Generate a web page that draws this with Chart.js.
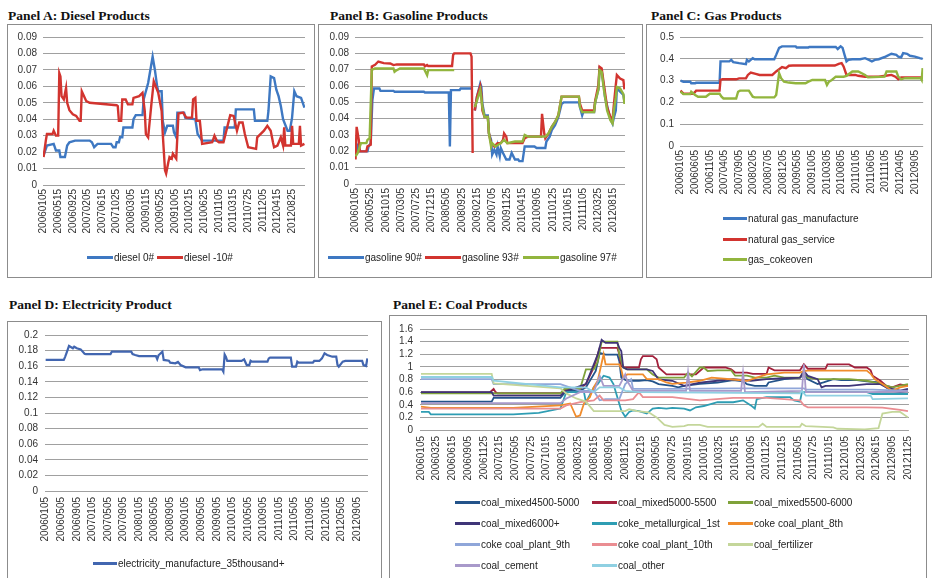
<!DOCTYPE html>
<html><head><meta charset="utf-8">
<script src="https://cdn.jsdelivr.net/npm/chart.js@4.4.1/dist/chart.umd.min.js"></script>
<style>
html,body{margin:0;padding:0;background:#fff;}
body{width:933px;height:578px;position:relative;overflow:hidden;font-family:'Liberation Sans',Arial,sans-serif;}
.title{position:absolute;font-family:'Liberation Serif','Times New Roman',serif;font-weight:bold;font-size:13.5px;line-height:14px;color:#111;white-space:nowrap;}
.box{position:absolute;border:1px solid #8c8c8c;box-sizing:border-box;}
canvas{position:absolute;}
.item{position:absolute;display:flex;align-items:center;height:12px;font-size:10px;color:#222;white-space:nowrap;}
.swatch{display:inline-block;height:3px;margin-right:1px;}
</style></head><body>
<div class="title" style="left:8px;top:9px">Panel A: Diesel Products</div>
<div class="title" style="left:330px;top:9px">Panel B: Gasoline Products</div>
<div class="title" style="left:651px;top:9px">Panel C: Gas Products</div>
<div class="title" style="left:9px;top:298px">Panel D: Electricity Product</div>
<div class="title" style="left:393px;top:298px">Panel E: Coal Products</div>
<script>
// ---------- tick labels ----------
const labelsA = ['20060105','20060515','20060925','20070205','20070615','20071025','20080305','20090115','20090525','20091005','20100215','20100625','20101105','20110315','20110725','20111205','20120415','20120825'];
const labelsB = ['20060105','20060525','20061015','20070305','20070725','20071215','20080505','20080925','20090215','20090705','20091125','20100415','20100905','20110125','20110615','20111105','20120325','20120815'];
const labelsC = ['20060105','20060605','20061105','20070405','20070905','20080205','20080705','20081205','20090505','20091005','20100305','20100805','20110105','20110605','20111105','20120405','20120905'];
const labelsD = ['20060105','20060505','20060905','20070105','20070505','20070905','20080105','20080505','20080905','20090105','20090505','20090905','20100105','20100505','20100905','20110105','20110505','20110905','20120105','20120505','20120905'];
const labelsE = ['20060105','20060325','20060615','20060905','20061125','20070215','20070505','20070725','20071015','20080105','20080325','20080615','20080905','20081125','20090215','20090505','20090725','20091015','20100105','20100325','20100615','20100905','20101125','20110215','20110505','20110725','20111015','20120105','20120325','20120615','20120905','20121125'];
const yTicksA = [0,0.01,0.02,0.03,0.04,0.05,0.06,0.07,0.08,0.09];
const yTicksB = [0,0.01,0.02,0.03,0.04,0.05,0.06,0.07,0.08,0.09];
const yTicksC = [0,0.1,0.2,0.3,0.4,0.5];
const yTicksD = [0,0.02,0.04,0.06,0.08,0.1,0.12,0.14,0.16,0.18,0.2];
const yTicksE = [0,0.2,0.4,0.6,0.8,1,1.2,1.4,1.6];
// observation count per panel and label spacing (in observations)
const countA = 233, stepA = 13;
const countB = 249, stepB = 14;
const countC = 249, stepC = 15;
const countD = 249, stepD = 12;
const countE = 249, stepE = 8;

// ---------- series: [observation index, value] ----------
const diesel0 = [[0,0.018],[3,0.024],[9,0.025],[11,0.021],[14,0.021],[15,0.017],[19,0.017],[21,0.024],[23,0.026],[28,0.027],[41,0.027],[43,0.026],[45,0.023],[48,0.025],[60,0.025],[62,0.023],[64,0.023],[65,0.026],[67,0.026],[68,0.029],[70,0.029],[71,0.035],[79,0.035],[80,0.040],[82,0.0425],[88,0.0425],[89,0.052],[91,0.057],[93,0.062],[97,0.078],[99,0.070],[101,0.060],[102,0.057],[105,0.057],[106,0.039],[108,0.032],[110,0.036],[115,0.036],[116,0.032],[118,0.029],[119,0.044],[125,0.044],[126,0.041],[135,0.040],[137,0.031],[141,0.027],[160,0.027],[161,0.035],[170,0.035],[171,0.046],[187,0.046],[188,0.039],[199,0.039],[200,0.045],[202,0.066],[205,0.065],[207,0.058],[209,0.054],[211,0.048],[213,0.040],[217,0.033],[219,0.033],[221,0.041],[223,0.057],[225,0.054],[229,0.053],[232,0.047]];
const dieselM10 = [[0,0.017],[2,0.027],[3,0.031],[8,0.031],[9,0.033],[11,0.030],[13,0.030],[14,0.068],[15,0.066],[16,0.054],[18,0.052],[20,0.059],[21,0.050],[23,0.0455],[26,0.043],[29,0.042],[32,0.039],[33,0.039],[34,0.057],[36,0.054],[38,0.051],[41,0.050],[65,0.0485],[66,0.048],[67,0.039],[69,0.039],[70,0.052],[73,0.052],[75,0.049],[79,0.049],[80,0.053],[85,0.054],[88,0.056],[90,0.045],[91,0.031],[93,0.029],[96,0.050],[98,0.063],[102,0.056],[105,0.045],[106,0.031],[108,0.009],[109,0.007],[111,0.014],[112,0.017],[114,0.016],[115,0.019],[118,0.016],[120,0.0435],[124,0.044],[127,0.041],[132,0.041],[133,0.052],[135,0.053],[136,0.039],[139,0.039],[141,0.025],[150,0.026],[152,0.030],[154,0.027],[156,0.026],[160,0.026],[164,0.037],[166,0.0425],[169,0.042],[172,0.033],[174,0.038],[177,0.038],[179,0.031],[182,0.023],[189,0.022],[190,0.029],[196,0.033],[199,0.036],[202,0.033],[204,0.026],[205,0.023],[208,0.024],[211,0.029],[213,0.024],[214,0.035],[215,0.024],[220,0.024],[221,0.036],[222,0.025],[227,0.025],[228,0.036],[229,0.024],[232,0.025]];

const gasoline90 = [[0,0.017],[2,0.023],[4,0.020],[11,0.020],[12,0.023],[14,0.025],[15.5,0.051],[17,0.0585],[22,0.0585],[23,0.057],[35,0.057],[36,0.0565],[63,0.0565],[64,0.056],[86,0.056],[87,0.023],[88,0.0575],[96,0.0575],[97,0.0585],[107,0.0585],[108,null],[110,0.045],[112,0.0535],[115,0.0615],[116,0.0595],[117,0.049],[119,0.042],[122,0.042],[123,0.031],[125,0.027],[126,0.018],[128,0.021],[130,0.018],[131,0.023],[133,0.017],[134,0.022],[136,0.019],[139,0.015],[142,0.015],[144,0.019],[147,0.015],[150,0.015],[151,0.014],[154,0.014],[156,0.023],[165,0.023],[167,0.022],[175,0.022],[176,0.026],[179,0.029],[181,0.033],[184,0.036],[187,0.041],[190,0.049],[192,0.050],[206,0.050],[207,0.047],[209,0.042],[210,0.044],[220,0.044],[221,0.050],[224,0.058],[225,0.0705],[227,0.069],[229,0.0595],[230,0.0535],[233,0.045],[235,0.040],[237,0.037],[238,0.040],[240,0.045],[241,0.0585],[244,0.0565],[247,0.0545],[248,0.0505]];
const gasoline93 = [[0,0.015],[1,0.035],[3,0.027],[4,0.020],[10,0.020],[11,0.023],[14,0.024],[15,0.072],[18,0.073],[21,0.075],[26,0.074],[32,0.0738],[35,0.0728],[38,0.0732],[63,0.0732],[64,0.072],[66,0.0728],[67,0.0722],[89,0.0722],[90,0.079],[91,0.080],[106,0.080],[107,0.078],[108,0.019],[109,null],[110,0.045],[112,0.0535],[115,0.060],[116,0.055],[117,0.045],[119,0.041],[122,0.041],[123,0.031],[125,0.025],[128,0.023],[131,0.025],[134,0.025],[136,0.027],[137,0.031],[139,0.029],[140,0.025],[154,0.025],[156,0.028],[159,0.029],[171,0.029],[172,0.043],[174,0.031],[175,0.028],[178,0.031],[181,0.035],[184,0.038],[187,0.042],[190,0.0535],[206,0.0535],[207,0.049],[209,0.045],[220,0.045],[221,0.051],[224,0.0606],[225,0.0717],[227,0.0707],[229,0.061],[232,0.047],[235,0.041],[237,0.039],[238,0.047],[240,0.0606],[241,0.0667],[244,0.0646],[247,0.0636],[248,0.058]];
const gasoline97 = [[0,0.017],[2,0.019],[4,0.023],[5,0.025],[10,0.025],[11,0.027],[13,0.028],[15,0.070],[18,0.0707],[35,0.0707],[36,0.0687],[38,0.0697],[41,0.0707],[63,0.0707],[66,0.0667],[67,0.0697],[91,0.0697],[92,null],[110,0.047],[112,0.051],[115,0.0575],[117,0.047],[119,0.041],[122,0.041],[123,0.031],[125,0.023],[126,0.025],[129,0.023],[134,0.025],[137,0.027],[140,0.025],[147,0.026],[154,0.026],[156,0.030],[159,0.029],[175,0.029],[178,0.031],[181,0.035],[184,0.038],[187,0.042],[190,0.0535],[206,0.0535],[207,0.047],[209,0.044],[220,0.044],[221,0.050],[224,0.058],[225,0.0697],[227,0.0687],[229,0.058],[232,0.045],[235,0.039],[237,0.037],[238,0.044],[240,0.053],[241,0.0595],[244,0.0585],[247,0.055],[248,0.049]];

const ngManufacture = [[0,0.30],[3,0.295],[10,0.295],[11,0.288],[15,0.288],[16,0.29],[40,0.29],[41,0.388],[50,0.388],[52,0.395],[54,0.385],[60,0.38],[67,0.375],[68,0.395],[70,0.388],[74,0.403],[76,0.398],[96,0.398],[98,0.418],[101,0.45],[104,0.457],[118,0.457],[119,0.452],[131,0.452],[132,0.454],[159,0.454],[161,0.445],[164,0.457],[166,0.45],[168,0.418],[170,0.388],[172,0.395],[176,0.398],[184,0.398],[189,0.403],[193,0.395],[196,0.388],[199,0.395],[203,0.398],[210,0.41],[216,0.423],[221,0.418],[223,0.41],[226,0.407],[228,0.426],[232,0.423],[235,0.414],[240,0.41],[245,0.403],[248,0.40]];
const ngService = [[0,0.254],[3,0.24],[13,0.24],[15,0.248],[16,0.254],[40,0.254],[41,0.303],[43,0.306],[57,0.306],[60,0.31],[67,0.31],[69,0.326],[72,0.337],[77,0.331],[81,0.326],[94,0.326],[98,0.342],[101,0.352],[104,0.362],[108,0.357],[111,0.368],[115,0.369],[158,0.369],[162,0.377],[165,0.38],[167,0.365],[170,0.326],[179,0.326],[182,0.322],[189,0.318],[203,0.318],[210,0.322],[216,0.326],[220,0.318],[223,0.306],[226,0.315],[248,0.315]];
const gasCokeoven = [[0,0.249],[3,0.238],[10,0.238],[11,0.249],[15,0.234],[18,0.226],[26,0.226],[30,0.24],[40,0.24],[42,0.226],[44,0.218],[57,0.218],[59,0.249],[61,0.254],[70,0.254],[74,0.226],[76,0.223],[96,0.223],[98,0.234],[101,0.334],[103,0.311],[106,0.295],[111,0.291],[118,0.288],[128,0.288],[131,0.295],[135,0.303],[148,0.303],[150,0.28],[152,0.295],[155,0.303],[159,0.318],[167,0.318],[170,0.322],[176,0.342],[182,0.342],[189,0.326],[192,0.315],[209,0.318],[211,0.342],[221,0.342],[223,0.318],[226,0.306],[230,0.311],[246,0.311],[247,0.303],[248,0.357]];

const electricity = [[0,0.168],[14,0.168],[15,0.172],[16,0.1765],[18,0.186],[20,0.184],[21,0.183],[22,0.185],[24,0.183],[27,0.1816],[30,0.176],[31,0.1756],[50,0.1756],[51,0.1786],[66,0.1786],[67,0.1756],[69,0.1744],[72,0.173],[85,0.173],[86,0.169],[87,0.174],[90,0.1786],[91,0.168],[95,0.167],[96,0.1645],[100,0.1637],[102,0.1655],[104,0.1615],[108,0.1585],[118,0.1585],[119,0.155],[121,0.156],[136,0.156],[137,0.153],[138,0.175],[139,0.172],[140,0.1667],[151,0.1667],[153,0.1687],[155,0.1615],[157,0.1615],[158,0.167],[159,0.1658],[171,0.1658],[172,0.170],[173,0.171],[189,0.171],[190,0.1594],[193,0.1594],[194,0.1658],[195,0.1645],[206,0.1645],[207,0.1667],[211,0.1667],[213,0.170],[215,0.1765],[217,0.1744],[221,0.1722],[224,0.1722],[225,0.1615],[226,0.1594],[229,0.1658],[231,0.1667],[244,0.1667],[245,0.1615],[247,0.1603],[248,0.170]];

const coalMixed4500 = [[0,0.45],[36,0.45],[37,0.51],[71,0.51],[74,0.62],[81,0.62],[84,0.675],[89,0.935],[91,1.22],[94,1.195],[100,1.195],[101,1.09],[102,0.83],[105,0.78],[111,0.78],[115,0.79],[118,0.77],[121,0.727],[128,0.70],[131,0.675],[134,0.70],[142,0.73],[151,0.75],[159,0.79],[164,0.77],[166,0.727],[170,0.70],[176,0.70],[177,0.753],[185,0.805],[193,0.83],[195,0.88],[197,0.805],[202,0.727],[205,0.753],[210,0.805],[214,0.79],[222,0.79],[227,0.77],[234,0.753],[237,0.675],[240,0.62],[244,0.60],[248,0.62]];
const coalMixed5000 = [[0,0.597],[35,0.597],[37,0.65],[38,0.6],[39,0.58],[71,0.58],[74,0.65],[81,0.65],[84,0.73],[88,0.99],[91,1.30],[100,1.30],[101,1.2],[102,1.01],[104,0.99],[111,0.99],[112,1.12],[113,1.17],[118,1.17],[120,1.12],[121,0.99],[125,0.88],[140,0.88],[144,0.99],[155,0.99],[158,0.96],[160,0.91],[166,0.91],[169,0.89],[176,0.89],[177,0.99],[180,0.945],[193,0.945],[195,1.04],[197,0.97],[206,0.97],[207,1.04],[218,1.04],[221,0.99],[227,0.99],[229,0.945],[230,0.86],[234,0.78],[237,0.70],[240,0.675],[244,0.72],[248,0.70]];
const coalMixed5500 = [[0,0.58],[71,0.58],[73,0.65],[81,0.65],[84,0.96],[88,0.96],[90,1.08],[92,1.40],[100,1.40],[101,1.2],[103,0.99],[105,0.96],[115,0.96],[118,0.88],[121,0.83],[134,0.83],[136,0.91],[138,0.85],[142,0.99],[144,0.99],[146,0.935],[151,0.945],[158,0.945],[160,0.86],[166,0.86],[170,0.83],[176,0.83],[180,0.86],[185,0.83],[193,0.83],[195,0.935],[197,0.83],[202,0.805],[218,0.805],[227,0.78],[234,0.73],[240,0.675],[248,0.727]];
const coalMixed6000 = [[0,0.60],[36,0.60],[37,0.545],[71,0.545],[74,0.62],[84,0.727],[90,1.195],[92,1.43],[94,1.38],[100,1.38],[101,1.30],[102,1.25],[103,0.99],[105,0.96],[115,0.96],[118,0.935],[121,0.80],[128,0.78],[134,0.70],[142,0.75],[151,0.78],[159,0.805],[168,0.78],[176,0.805],[185,0.82],[193,0.83],[195,0.935],[197,0.857],[202,0.805],[204,0.675],[206,0.70],[218,0.70],[227,0.727],[234,0.727],[237,0.675],[240,0.65],[244,0.623],[248,0.65]];
const cokeMetallurgical = [[0,0.286],[4,0.286],[5,0.249],[47,0.249],[60,0.27],[71,0.34],[74,0.60],[83,0.60],[84,0.44],[88,0.675],[90,0.727],[93,0.86],[96,0.83],[98,0.727],[100,0.52],[102,0.31],[104,0.21],[106,0.286],[108,0.31],[111,0.30],[115,0.26],[118,0.338],[121,0.35],[125,0.34],[128,0.35],[134,0.34],[137,0.31],[140,0.36],[144,0.38],[151,0.44],[159,0.44],[164,0.47],[168,0.39],[170,0.34],[171,0.49],[176,0.52],[188,0.52],[190,0.47],[193,0.45],[194,0.60],[227,0.60],[230,0.57],[248,0.57]];
const cokePlant8 = [[0,0.37],[5,0.35],[47,0.35],[71,0.39],[76,0.42],[79,0.21],[81,0.23],[83,0.42],[86,0.52],[88,0.68],[90,0.78],[93,1.20],[94,1.04],[101,1.04],[102,0.96],[103,0.83],[105,0.88],[113,0.88],[115,0.805],[121,0.805],[125,0.753],[128,0.73],[135,0.75],[142,0.78],[148,0.83],[159,0.80],[166,0.78],[176,0.88],[185,0.91],[193,0.91],[195,0.935],[197,0.94],[227,0.94],[229,0.89],[231,0.805],[235,0.73],[240,0.62],[244,0.675],[248,0.70]];
const cokePlant9 = [[0,0.805],[36,0.805],[37,0.727],[71,0.727],[81,0.62],[88,0.62],[91,0.47],[94,0.49],[101,0.49],[104,0.727],[107,0.805],[108,0.65],[128,0.65],[160,0.66],[195,0.66],[196,0.64],[230,0.64],[248,0.62]];
const cokePlant10 = [[0,0.34],[71,0.34],[74,0.39],[81,0.44],[88,0.47],[91,0.545],[93,0.47],[104,0.47],[108,0.49],[111,0.60],[113,0.52],[128,0.52],[142,0.47],[159,0.51],[176,0.51],[185,0.49],[193,0.47],[195,0.39],[197,0.36],[227,0.36],[235,0.353],[244,0.32],[248,0.30]];
const coalFertilizer = [[0,0.89],[36,0.89],[37,0.74],[71,0.66],[74,0.58],[79,0.50],[84,0.45],[88,0.30],[104,0.30],[106,0.33],[110,0.30],[116,0.28],[120,0.20],[124,0.08],[128,0.05],[134,0.06],[136,0.08],[142,0.08],[146,0.05],[172,0.05],[174,0.10],[176,0.05],[193,0.05],[194,0.10],[196,0.06],[210,0.04],[212,0.02],[226,0.01],[233,0.03],[235,0.26],[240,0.286],[244,0.286],[248,0.20]];
const coalCement = [[0,0.426],[71,0.426],[74,0.50],[81,0.60],[88,0.60],[91,0.86],[93,0.70],[101,0.70],[104,0.88],[105,0.78],[108,0.62],[135,0.62],[136,0.91],[137,0.62],[163,0.62],[164,0.91],[165,0.60],[194,0.62],[195,1.04],[196,0.60],[227,0.60],[248,0.61]];
const coalOther = [[0,0.84],[36,0.84],[37,0.78],[71,0.675],[84,0.675],[88,0.60],[91,0.675],[101,0.675],[104,0.62],[111,0.60],[193,0.58],[194,0.62],[196,0.545],[229,0.545],[230,0.49],[248,0.50]];

// ---------- helpers ----------
const BLUE='#3E78C2', RED='#D2342F', GREEN='#92B53E';
const FONT = "'Liberation Sans', Arial, sans-serif";
function pts(arr){ return arr.map(p => ({x:p[0], y:p[1]})); }
function fmt(v){ return String(Math.round(v*1000)/1000); }

function makePanel(cfg){
  const c = document.createElement('canvas');
  const [cl, ct, cw, ch] = cfg.canvas;
  c.width = cw; c.height = ch;
  c.style.left = cl+'px'; c.style.top = ct+'px';
  c.style.width = cw+'px'; c.style.height = ch+'px';
  document.body.appendChild(c);
  const [al, at, ar, ab] = cfg.area;
  const n = cfg.series.length;
  const xVals = cfg.labels.map((l,k)=>k*cfg.step);
  const chart = new Chart(c, {
    type:'line',
    data:{datasets: cfg.series.map((s,i)=>({
      label:s.label, data:pts(s.data), borderColor:s.color, backgroundColor:s.color,
      borderWidth:cfg.lw, pointRadius:0, tension:0, spanGaps:false, order:n-i, fill:false
    }))},
    options:{
      responsive:false, animation:false, devicePixelRatio:1,
      layout:{padding:{top:at-ct, right:(cl+cw)-ar, left:0, bottom:0}},
      plugins:{legend:{display:false}, tooltip:{enabled:false}},
      scales:{
        x:{type:'linear', min:-0.5, max:cfg.count-0.5,
          grid:{display:false, drawTicks:false}, border:{display:false},
          afterBuildTicks:s=>{ s.ticks = xVals.map(v=>({value:v})); },
          afterFit:s=>{ s.height = (ct+ch)-ab; },
          ticks:{autoSkip:false, maxRotation:90, minRotation:90, padding:cfg.xpad,
            font:{family:FONT, size:10}, color:'#333',
            callback:(v,i)=>cfg.labels[i]}
        },
        y:{min:0, max:cfg.yTicks[cfg.yTicks.length-1],
          afterBuildTicks:s=>{ s.ticks = cfg.yTicks.map(v=>({value:v})); },
          afterFit:s=>{ s.width = al-cl; },
          grid:{color:'#a0a0a0', lineWidth:1, drawTicks:false}, border:{display:false},
          ticks:{autoSkip:false, padding:cfg.ypad, font:{family:FONT, size:10}, color:'#333', callback:v=>fmt(v)}
        }
      }
    }
  });
  // legend built from chart datasets
  chart.data.datasets.forEach((ds,i)=>{
    const [x,y] = cfg.legend[i];
    const it = document.createElement('div'); it.className='item';
    it.style.left = x+'px'; it.style.top = (y-6)+'px';
    const sw = document.createElement('span'); sw.className='swatch';
    sw.style.width = cfg.sw+'px'; sw.style.background = ds.borderColor;
    const tx = document.createElement('span'); tx.textContent = ds.label;
    it.appendChild(sw); it.appendChild(tx);
    document.body.appendChild(it);
  });
  return chart;
}
function box(l,t,r,b){ const d=document.createElement('div'); d.className='box';
  d.style.left=l+'px'; d.style.top=t+'px'; d.style.width=(r-l)+'px'; d.style.height=(b-t)+'px'; document.body.appendChild(d); }

box(7,24,315,278); box(318,24,643,278); box(646,24,932,278); box(7,321,382,590); box(389,315,927,590);

makePanel({canvas:[8,25,306,252], area:[43,37,305,185], labels:labelsA, step:stepA, count:countA,
  yTicks:yTicksA, lw:2.4, xpad:4, ypad:6, sw:26,
  series:[{label:'diesel 0#', data:diesel0, color:BLUE},{label:'diesel -10#', data:dieselM10, color:RED}],
  legend:[[87,257],[157,257]]});
makePanel({canvas:[319,25,323,252], area:[355,37,625,184], labels:labelsB, step:stepB, count:countB,
  yTicks:yTicksB, lw:2.4, xpad:4, ypad:6, sw:36,
  series:[{label:'gasoline 90#', data:gasoline90, color:BLUE},{label:'gasoline 93#', data:gasoline93, color:RED},{label:'gasoline 97#', data:gasoline97, color:GREEN}],
  legend:[[328,257],[425,257],[523,257]]});
makePanel({canvas:[647,25,284,252], area:[680,37,927,146], labels:labelsC, step:stepC, count:countC,
  yTicks:yTicksC, lw:2.4, xpad:4, ypad:6, sw:24,
  series:[{label:'natural gas_manufacture', data:ngManufacture, color:BLUE},{label:'natural gas_service', data:ngService, color:RED},{label:'gas_cokeoven', data:gasCokeoven, color:GREEN}],
  legend:[[723,218],[723,239],[723,259]]});
makePanel({canvas:[8,322,373,257], area:[45,335,368,491], labels:labelsD, step:stepD, count:countD,
  yTicks:yTicksD, lw:2.2, xpad:6, ypad:7, sw:24,
  series:[{label:'electricity_manufacture_35thousand+', data:electricity, color:'#4266B0'}],
  legend:[[93,563]]});
makePanel({canvas:[390,316,536,263], area:[420,327,912,430], labels:labelsE, step:stepE, count:countE,
  yTicks:yTicksE, lw:1.8, xpad:6, ypad:7, sw:25,
  series:[
    {label:'coal_mixed4500-5000', data:coalMixed4500, color:'#23538A'},
    {label:'coal_mixed5000-5500', data:coalMixed5000, color:'#A3213C'},
    {label:'coal_mixed5500-6000', data:coalMixed5500, color:'#7FA23A'},
    {label:'coal_mixed6000+', data:coalMixed6000, color:'#3F3578'},
    {label:'coke_metallurgical_1st', data:cokeMetallurgical, color:'#2E9DB3'},
    {label:'coke coal_plant_8th', data:cokePlant8, color:'#F08C2C'},
    {label:'coke coal_plant_9th', data:cokePlant9, color:'#8FA6D9'},
    {label:'coke coal_plant_10th', data:cokePlant10, color:'#EA8D92'},
    {label:'coal_fertilizer', data:coalFertilizer, color:'#C4D69A'},
    {label:'coal_cement', data:coalCement, color:'#A899CA'},
    {label:'coal_other', data:coalOther, color:'#8FD0E2'}],
  legend:[[455,502.7],[592,502.7],[728,502.7],[455,523.3],[592,523.3],[728,523.3],[455,544],[592,544],[728,544],[455,565],[592,565]]});
</script>
</body></html>
